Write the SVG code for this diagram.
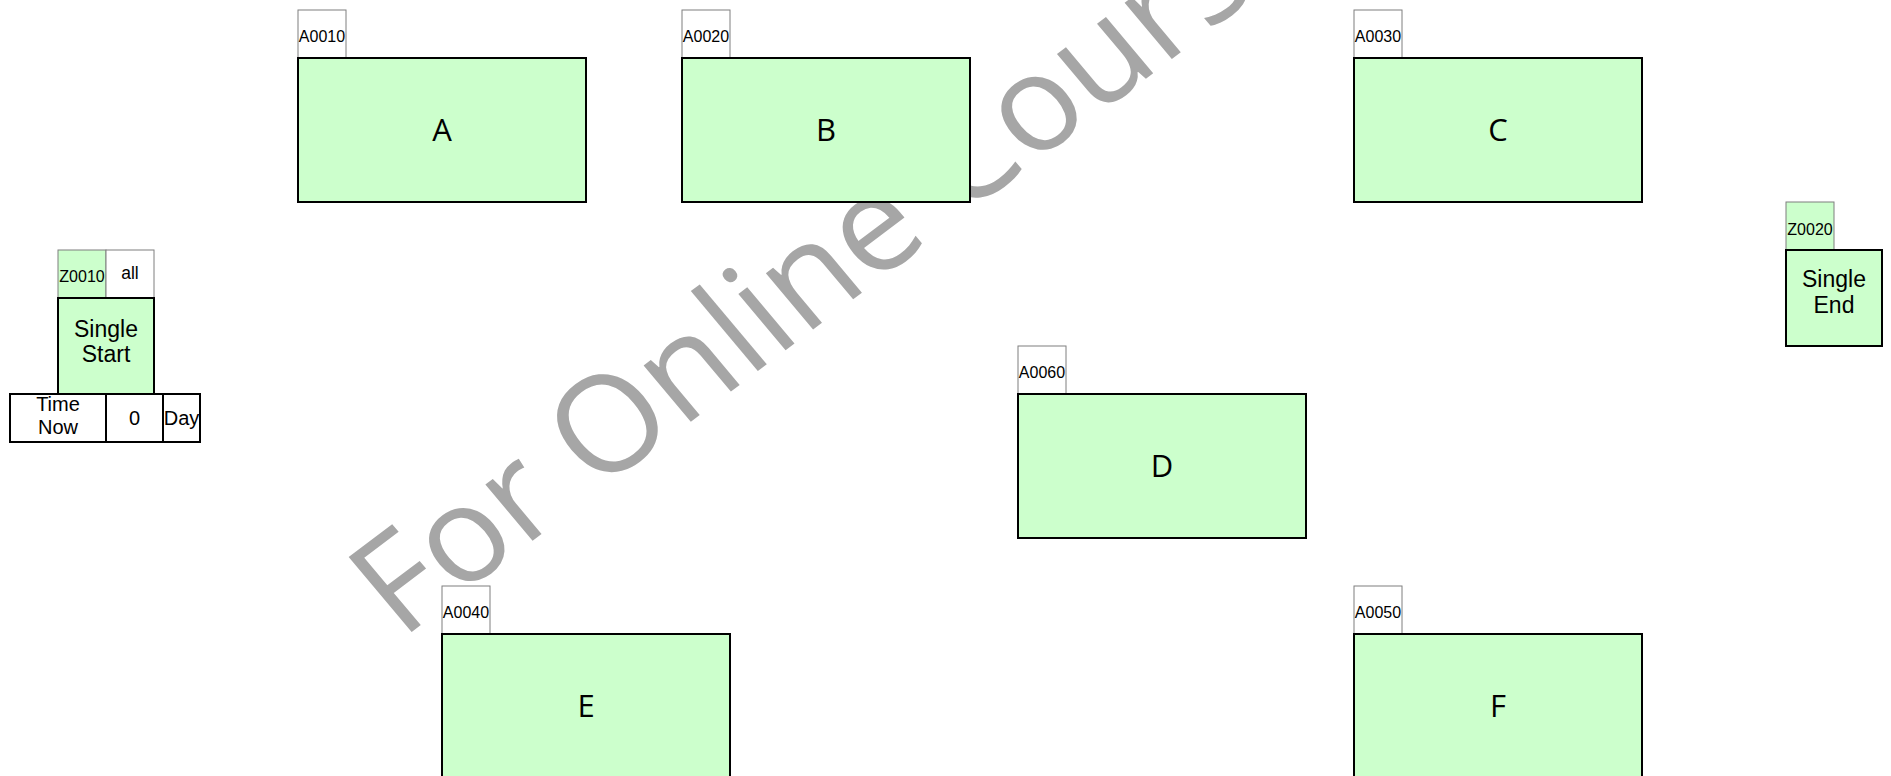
<svg xmlns="http://www.w3.org/2000/svg" width="1891" height="776" viewBox="0 0 1891 776">
<style>
.main{fill:#CCFFCC;stroke:#000;stroke-width:2}
.tab{fill:#FFFFFF;stroke:#7F7F7F;stroke-width:1}
.tabg{fill:#CCFFCC;stroke:#7F7F7F;stroke-width:1}
.cell{fill:#FFFFFF;stroke:#000;stroke-width:2}
.lbl{font-family:"Liberation Sans",Arial,sans-serif;font-size:16px;fill:#000;text-anchor:middle}
.big{font-family:"Open Sans","Noto Sans",sans-serif;font-size:31px;fill:#000;text-anchor:middle}
.mid{font-family:"Liberation Sans",Arial,sans-serif;font-size:23px;fill:#000;text-anchor:middle}
.sm{font-family:"Liberation Sans",Arial,sans-serif;font-size:20px;fill:#000;text-anchor:middle}
.wm{font-family:"Open Sans","Noto Sans",sans-serif;font-size:137px;fill:#A6A6A6}
</style>
<rect x="0" y="0" width="1891" height="776" fill="#FFFFFF"/>
<text class="wm" x="0" y="0" transform="translate(401 640) rotate(-37) skewX(3)">For Online Course</text>
<g id="connectors"></g>
<g id="Z0010">
<rect class="tabg" x="58" y="250" width="48" height="48"/>
<text class="lbl" x="82" y="282">Z0010</text>
<rect class="tab" x="106" y="250" width="48" height="48"/>
<text class="lbl" x="130" y="279" style="font-size:17.5px">all</text>
<rect class="main" x="58" y="298" width="96" height="96"/>
<text class="mid" x="106" y="337">Single</text>
<text class="mid" x="106" y="362">Start</text>
<rect class="cell" x="10" y="394" width="96" height="48"/>
<text class="sm" x="58" y="411">Time</text>
<text class="sm" x="58" y="434">Now</text>
<rect class="cell" x="106" y="394" width="57" height="48"/>
<text class="sm" x="134.5" y="425">0</text>
<rect class="cell" x="163" y="394" width="37" height="48"/>
<text class="sm" x="181.5" y="425">Day</text>
</g>
<g id="A0010">
<rect class="tab" x="298" y="10" width="48" height="48"/>
<text class="lbl" x="322" y="42">A0010</text>
<rect class="main" x="298" y="58" width="288" height="144"/>
<text class="big" x="442" y="141">A</text>
</g>
<g id="A0020">
<rect class="tab" x="682" y="10" width="48" height="48"/>
<text class="lbl" x="706" y="42">A0020</text>
<rect class="main" x="682" y="58" width="288" height="144"/>
<text class="big" x="826" y="141">B</text>
</g>
<g id="A0030">
<rect class="tab" x="1354" y="10" width="48" height="48"/>
<text class="lbl" x="1378" y="42">A0030</text>
<rect class="main" x="1354" y="58" width="288" height="144"/>
<text class="big" x="1498" y="141">C</text>
</g>
<g id="A0060">
<rect class="tab" x="1018" y="346" width="48" height="48"/>
<text class="lbl" x="1042" y="378">A0060</text>
<rect class="main" x="1018" y="394" width="288" height="144"/>
<text class="big" x="1162" y="477">D</text>
</g>
<g id="A0040">
<rect class="tab" x="442" y="586" width="48" height="48"/>
<text class="lbl" x="466" y="618">A0040</text>
<rect class="main" x="442" y="634" width="288" height="144"/>
<text class="big" x="586" y="717">E</text>
</g>
<g id="A0050">
<rect class="tab" x="1354" y="586" width="48" height="48"/>
<text class="lbl" x="1378" y="618">A0050</text>
<rect class="main" x="1354" y="634" width="288" height="144"/>
<text class="big" x="1498" y="717">F</text>
</g>
<g id="Z0020">
<rect class="tabg" x="1786" y="202" width="48" height="48"/>
<text class="lbl" x="1810" y="235">Z0020</text>
<rect class="main" x="1786" y="250" width="96" height="96"/>
<text class="mid" x="1834" y="287">Single</text>
<text class="mid" x="1834" y="313">End</text>
</g>
</svg>
